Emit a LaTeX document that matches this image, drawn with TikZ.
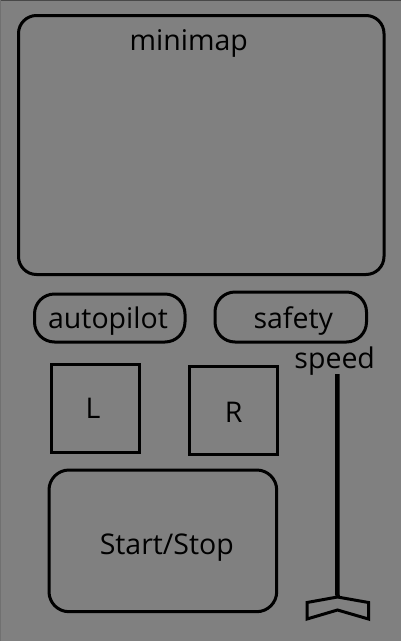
\documentclass[tikz,border=0pt]{standalone}
\usepackage{fontspec}
\setmainfont{Open Sans}
\definecolor{bg}{RGB}{128,128,128}
\definecolor{edgetop}{RGB}{72,72,72}
\definecolor{edgeleft}{RGB}{112,112,112}
\begin{document}
\begin{tikzpicture}[x=1pt,y=-1pt,
  box/.style={draw=black, line width=3pt, inner sep=0pt, outer sep=0pt, rectangle},
  lbl/.style={anchor=base, inner sep=0pt, outer sep=0pt, font=\fontsize{28.5}{34}\selectfont, text=black}]
\fill[bg] (0,0) rectangle (401,641);
\useasboundingbox (0,0) rectangle (401,641);
\draw[edgetop, line width=1pt] (0,0.5) -- (401,0.5);
\draw[edgeleft, line width=1pt] (0.5,0) -- (0.5,641);
% boxes
\node[box, rounded corners=18pt, minimum width=365.5pt, minimum height=259pt] (minimap) at (201.25,145) {};
\node[box, rounded corners=20pt, minimum width=150.5pt, minimum height=48pt] (autopilot) at (109.75,318) {};
\node[box, rounded corners=20pt, minimum width=151.5pt, minimum height=50pt] (safety) at (290.75,317) {};
\node[box, minimum width=88pt, minimum height=88pt] (lbox) at (95,408) {};
\node[box, minimum width=88pt, minimum height=88pt] (rbox) at (233,410) {};
\node[box, rounded corners=20pt, minimum width=227.7pt, minimum height=141.7pt] (startstop) at (162.85,540.85) {};
% labels
\node[lbl] (tminimap) at (188.8,50) {minimap};
\node[lbl] (tautopilot) at (108,328) {autopilot};
\node[lbl] (tsafety) at (293.3,328) {safety};
\node[lbl] (tl) at (93,418) {L};
\node[lbl] (tr) at (233.6,422) {R};
\node[lbl] (tstart) at (166.8,554) {Start/Stop};
\node[lbl] (tspeed) at (334.7,368) {speed};
% slider
\coordinate (slidertop) at (337.3,374);
\coordinate (sliderbot) at (337.5,597);
\draw[black, line width=4.5pt] (slidertop) -- (sliderbot);
\draw[black, line width=3pt, line join=miter] (307,602.5) -- (sliderbot) -- (368.5,602.5) -- (368.5,619) -- (337.5,610) -- (307,619) -- cycle;
\end{tikzpicture}
\end{document}
